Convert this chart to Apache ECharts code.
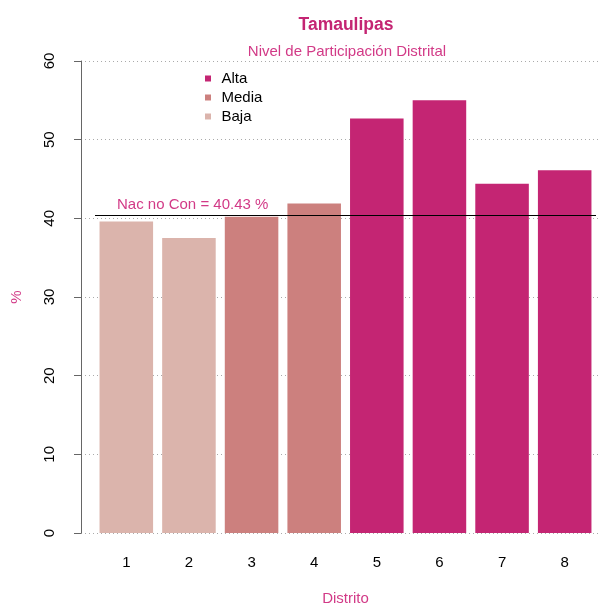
<!DOCTYPE html>
<html>
<head>
<meta charset="utf-8">
<script src="https://cdn.jsdelivr.net/npm/echarts@6/dist/echarts.min.js"></script>
<style>html,body{margin:0;padding:0;background:#fff}#c{width:600px;height:605px}</style>
</head>
<body>
<div id="c"></div>
<script>
const categories = ['1','2','3','4','5','6','7','8'];
const values = [39.6, 37.5, 40.2, 41.9, 52.7, 55.0, 44.4, 46.1];
const levels = ['Baja','Baja','Media','Media','Alta','Alta','Alta','Alta'];
const levelNames = ['Alta','Media','Baja'];
const levelColors = {Alta:'#C42573', Media:'#CC807E', Baja:'#DBB4AC'};
const nacValue = 40.43;
const yTicks = [0,10,20,30,40,50,60];

const FONT = '"Liberation Sans", Arial, sans-serif';
const PINK = '#D23A87';

const chart = echarts.init(document.getElementById('c'), null, {renderer:'canvas'});

const series = levelNames.map((lv, i) => {
  const s = {
    name: lv,
    type: 'bar',
    xAxisIndex: 1,
    yAxisIndex: 1,
    barWidth: '85.5%',
    barGap: '-100%',
    itemStyle: {color: levelColors[lv]},
    data: values.map((v, k) => levels[k] === lv ? v : null),
    silent: true
  };
  if (i === 0) {
    s.markLine = {
      silent: true,
      symbol: ['none','none'],
      lineStyle: {color:'#000', width:1, type:'solid'},
      label: {
        show: true,
        position: 'insideStartTop',
        formatter: 'Nac no Con = ' + nacValue + ' %',
        color: PINK,
        fontFamily: FONT,
        fontSize: 15,
        distance: [22, 3]
      },
      data: [{yAxis: nacValue}]
    };
  }
  return s;
});

chart.setOption({
  animation: false,
  textStyle: {fontFamily: FONT},
  title: [
    {text:'Tamaulipas', left:341, top:11, textAlign:'center',
     textStyle:{fontFamily:FONT, fontSize:17.5, fontWeight:'bold', color:'#C42573'}},
    {text:'Nivel de Participación Distrital', left:342, top:39, textAlign:'center',
     textStyle:{fontFamily:FONT, fontSize:15, fontWeight:'normal', color:PINK}}
  ],
  legend: {
    data: levelNames,
    orient: 'vertical',
    left: 200,
    top: 66,
    itemWidth: 17,
    itemHeight: 6,
    itemGap: 4,
    icon: 'path://M0,0H10V10H0Z',
    textStyle: {fontFamily: FONT, fontSize: 15, color:'#000'},
    selectedMode: false
  },
  grid: [
    {left:81, right:0, top:61, bottom:72, outerBoundsMode:'none', containLabel:false},
    {left:95, right:4, top:61, bottom:72, outerBoundsMode:'none', containLabel:false}
  ],
  xAxis: [
    {type:'value', gridIndex:0, show:false, min:0, max:1},
    {type:'category', gridIndex:1, data: categories,
     axisLine:{show:false}, axisTick:{show:false},
     axisLabel:{margin:22, fontSize:15, color:'#000', fontFamily:FONT},
     name:'Distrito', nameLocation:'middle', nameGap:58,
     nameTextStyle:{color:PINK, fontSize:15, fontFamily:FONT}}
  ],
  yAxis: [
    {type:'value', gridIndex:0, min:0, max:60, interval:10,
     axisLine:{show:true, lineStyle:{color:'#666', width:1}},
     axisTick:{show:true, length:7, lineStyle:{color:'#666'}},
     axisLabel:{rotate:90, margin:24, fontSize:15, color:'#000', fontFamily:FONT,
       formatter: v => yTicks.includes(v) ? String(v) : ''},
     splitLine:{show:true, lineStyle:{color:'#aaa', type:[1,3], width:1}},
     name:'%', nameLocation:'middle', nameRotate:90, nameGap:57,
     nameTextStyle:{color:PINK, fontSize:15, fontFamily:FONT}},
    {type:'value', gridIndex:1, min:0, max:60, interval:10, show:false,
     splitLine:{show:false}}
  ],
  series: series
});
</script>
</body>
</html>
